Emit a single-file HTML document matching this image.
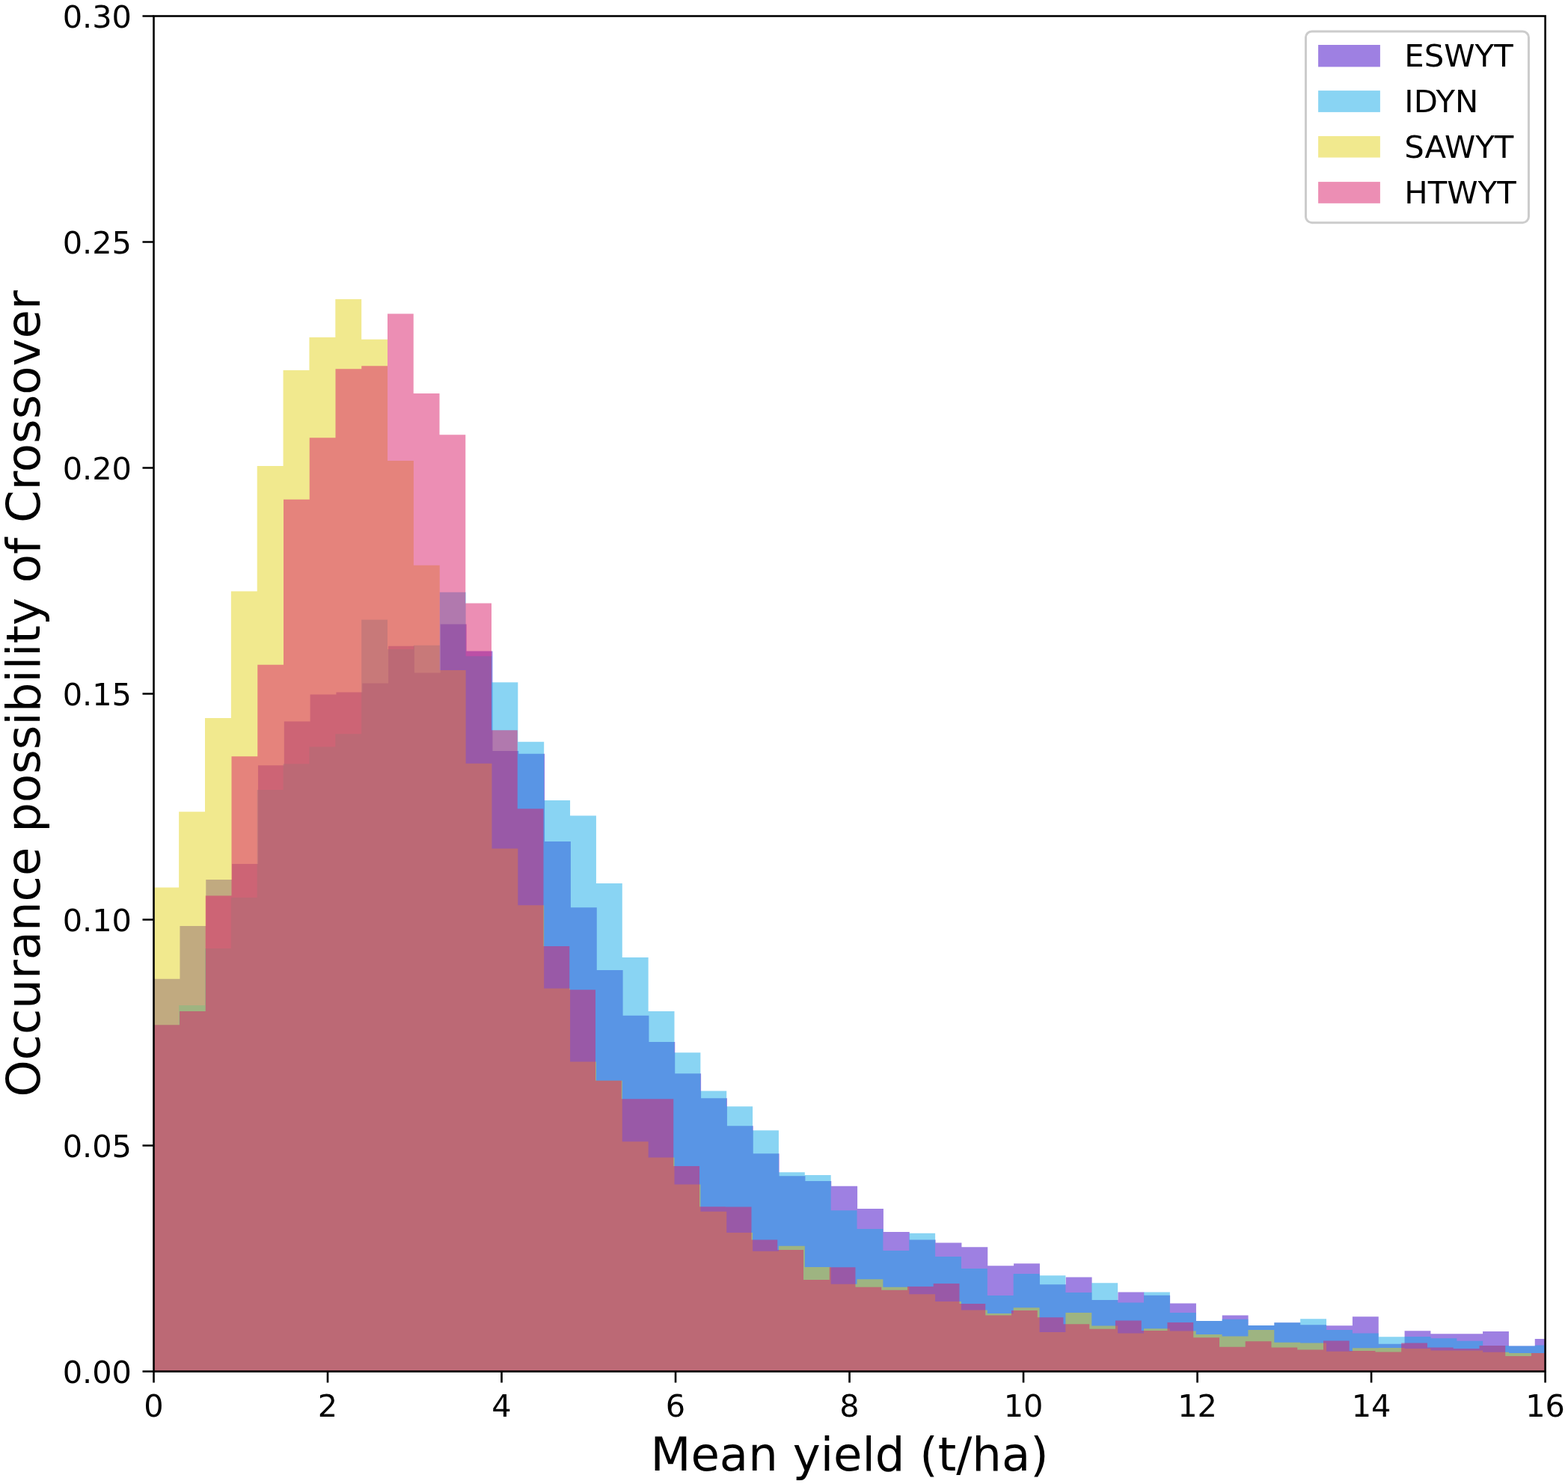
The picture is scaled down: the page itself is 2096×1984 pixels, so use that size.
<!DOCTYPE html>
<html><head><meta charset="utf-8"><title>Histogram</title>
<style>html,body{margin:0;padding:0;background:#fff;}svg{display:block;}text{font-family:"DejaVu Sans", "Liberation Sans", sans-serif;fill:#000;}</style>
</head><body>
<svg width="2096" height="1984" viewBox="0 0 2096 1984">
<rect x="0" y="0" width="2096" height="1984" fill="#ffffff"/>
<defs><clipPath id="ax"><rect x="205.5" y="21.5" width="1860.10" height="1812.00"/></clipPath></defs>
<g clip-path="url(#ax)">
<path d="M205.60,1833.50 L205.60,1308.70 L240.43,1308.70 L240.43,1237.90 L275.27,1237.90 L275.27,1176.00 L310.10,1176.00 L310.10,1154.90 L344.93,1154.90 L344.93,1023.30 L379.76,1023.30 L379.76,964.40 L414.60,964.40 L414.60,928.50 L449.43,928.50 L449.43,925.50 L484.26,925.50 L484.26,913.50 L519.10,913.50 L519.10,863.80 L553.93,863.80 L553.93,899.50 L588.76,899.50 L588.76,834.60 L623.60,834.60 L623.60,870.60 L658.43,870.60 L658.43,1003.90 L693.26,1003.90 L693.26,1007.80 L728.10,1007.80 L728.10,1125.10 L762.93,1125.10 L762.93,1213.20 L797.76,1213.20 L797.76,1297.00 L832.59,1297.00 L832.59,1357.80 L867.43,1357.80 L867.43,1393.00 L902.26,1393.00 L902.26,1435.20 L937.09,1435.20 L937.09,1468.20 L971.93,1468.20 L971.93,1505.20 L1006.76,1505.20 L1006.76,1542.20 L1041.59,1542.20 L1041.59,1572.30 L1076.42,1572.30 L1076.42,1579.10 L1111.26,1579.10 L1111.26,1585.80 L1146.09,1585.80 L1146.09,1615.90 L1180.92,1615.90 L1180.92,1647.10 L1215.76,1647.10 L1215.76,1657.50 L1250.59,1657.50 L1250.59,1661.40 L1285.42,1661.40 L1285.42,1667.30 L1320.26,1667.30 L1320.26,1692.30 L1355.09,1692.30 L1355.09,1689.30 L1389.92,1689.30 L1389.92,1717.30 L1424.75,1717.30 L1424.75,1707.50 L1459.59,1707.50 L1459.59,1738.00 L1494.42,1738.00 L1494.42,1727.40 L1529.25,1727.40 L1529.25,1731.80 L1564.09,1731.80 L1564.09,1742.40 L1598.92,1742.40 L1598.92,1766.00 L1633.75,1766.00 L1633.75,1758.40 L1668.59,1758.40 L1668.59,1772.00 L1703.42,1772.00 L1703.42,1768.20 L1738.25,1768.20 L1738.25,1771.20 L1773.08,1771.20 L1773.08,1772.30 L1807.92,1772.30 L1807.92,1760.20 L1842.75,1760.20 L1842.75,1796.80 L1877.58,1796.80 L1877.58,1779.30 L1912.42,1779.30 L1912.42,1783.20 L1947.25,1783.20 L1947.25,1783.20 L1982.08,1783.20 L1982.08,1780.10 L2016.92,1780.10 L2016.92,1799.40 L2051.75,1799.40 L2051.75,1790.10 L2086.58,1790.10 L2086.58,1833.50 Z" fill="#3d01c5" fill-opacity="0.5"/>
<path d="M204.28,1833.50 L204.28,1370.30 L239.14,1370.30 L239.14,1343.90 L274.00,1343.90 L274.00,1268.00 L308.86,1268.00 L308.86,1200.00 L343.72,1200.00 L343.72,1055.90 L378.58,1055.90 L378.58,1021.20 L413.45,1021.20 L413.45,998.60 L448.31,998.60 L448.31,981.20 L483.17,981.20 L483.17,828.50 L518.03,828.50 L518.03,868.00 L552.89,868.00 L552.89,862.80 L587.75,862.80 L587.75,791.80 L622.61,791.80 L622.61,877.30 L657.47,877.30 L657.47,912.30 L692.33,912.30 L692.33,991.80 L727.19,991.80 L727.19,1070.00 L762.06,1070.00 L762.06,1090.50 L796.92,1090.50 L796.92,1181.10 L831.78,1181.10 L831.78,1280.00 L866.64,1280.00 L866.64,1352.00 L901.50,1352.00 L901.50,1407.20 L936.36,1407.20 L936.36,1458.40 L971.22,1458.40 L971.22,1479.30 L1006.08,1479.30 L1006.08,1511.30 L1040.94,1511.30 L1040.94,1567.20 L1075.81,1567.20 L1075.81,1571.10 L1110.67,1571.10 L1110.67,1618.30 L1145.53,1618.30 L1145.53,1643.10 L1180.39,1643.10 L1180.39,1671.90 L1215.25,1671.90 L1215.25,1648.70 L1250.11,1648.70 L1250.11,1680.00 L1284.97,1680.00 L1284.97,1696.00 L1319.83,1696.00 L1319.83,1732.10 L1354.69,1732.10 L1354.69,1702.90 L1389.55,1702.90 L1389.55,1705.20 L1424.41,1705.20 L1424.41,1727.90 L1459.28,1727.90 L1459.28,1715.30 L1494.14,1715.30 L1494.14,1741.50 L1529.00,1741.50 L1529.00,1727.50 L1563.86,1727.50 L1563.86,1754.90 L1598.72,1754.90 L1598.72,1766.00 L1633.58,1766.00 L1633.58,1763.70 L1668.44,1763.70 L1668.44,1772.00 L1703.30,1772.00 L1703.30,1768.20 L1738.16,1768.20 L1738.16,1763.20 L1773.02,1763.20 L1773.02,1778.10 L1807.89,1778.10 L1807.89,1782.60 L1842.75,1782.60 L1842.75,1787.20 L1877.61,1787.20 L1877.61,1786.90 L1912.47,1786.90 L1912.47,1789.20 L1947.33,1789.20 L1947.33,1792.70 L1982.19,1792.70 L1982.19,1799.00 L2017.05,1799.00 L2017.05,1799.40 L2051.91,1799.40 L2051.91,1798.50 L2086.77,1798.50 L2086.77,1833.50 Z" fill="#13a9e7" fill-opacity="0.5"/>
<path d="M204.28,1833.50 L204.28,1186.40 L239.14,1186.40 L239.14,1085.20 L274.00,1085.20 L274.00,959.90 L308.86,959.90 L308.86,790.40 L343.72,790.40 L343.72,623.10 L378.58,623.10 L378.58,495.10 L413.45,495.10 L413.45,450.90 L448.31,450.90 L448.31,400.00 L483.17,400.00 L483.17,453.80 L518.03,453.80 L518.03,615.90 L552.89,615.90 L552.89,755.80 L587.75,755.80 L587.75,896.00 L622.61,896.00 L622.61,1020.70 L657.47,1020.70 L657.47,1134.60 L692.33,1134.60 L692.33,1210.30 L727.19,1210.30 L727.19,1321.50 L762.06,1321.50 L762.06,1419.60 L796.92,1419.60 L796.92,1444.80 L831.78,1444.80 L831.78,1526.20 L866.64,1526.20 L866.64,1547.60 L901.50,1547.60 L901.50,1583.60 L936.36,1583.60 L936.36,1619.70 L971.22,1619.70 L971.22,1647.90 L1006.08,1647.90 L1006.08,1672.80 L1040.94,1672.80 L1040.94,1665.80 L1075.81,1665.80 L1075.81,1694.00 L1110.67,1694.00 L1110.67,1716.70 L1145.53,1716.70 L1145.53,1710.30 L1180.39,1710.30 L1180.39,1720.70 L1215.25,1720.70 L1215.25,1730.30 L1250.11,1730.30 L1250.11,1740.00 L1284.97,1740.00 L1284.97,1751.40 L1319.83,1751.40 L1319.83,1755.90 L1354.69,1755.90 L1354.69,1748.30 L1389.55,1748.30 L1389.55,1780.90 L1424.41,1780.90 L1424.41,1755.10 L1459.28,1755.10 L1459.28,1772.50 L1494.14,1772.50 L1494.14,1782.40 L1529.00,1782.40 L1529.00,1776.30 L1563.86,1776.30 L1563.86,1779.50 L1598.72,1779.50 L1598.72,1784.10 L1633.58,1784.10 L1633.58,1786.40 L1668.44,1786.40 L1668.44,1778.10 L1703.30,1778.10 L1703.30,1794.70 L1738.16,1794.70 L1738.16,1795.50 L1773.02,1795.50 L1773.02,1806.80 L1807.89,1806.80 L1807.89,1802.30 L1842.75,1802.30 L1842.75,1802.10 L1877.61,1802.10 L1877.61,1803.00 L1912.47,1803.00 L1912.47,1805.40 L1947.33,1805.40 L1947.33,1805.40 L1982.19,1805.40 L1982.19,1807.80 L2017.05,1807.80 L2017.05,1808.90 L2051.91,1808.90 L2051.91,1808.90 L2086.77,1808.90 L2086.77,1833.50 Z" fill="#e4d41e" fill-opacity="0.5"/>
<path d="M205.26,1833.50 L205.26,1370.30 L240.01,1370.30 L240.01,1351.90 L274.76,1351.90 L274.76,1197.60 L309.51,1197.60 L309.51,1011.30 L344.26,1011.30 L344.26,888.80 L379.00,888.80 L379.00,667.80 L413.75,667.80 L413.75,585.20 L448.50,585.20 L448.50,493.30 L483.25,493.30 L483.25,489.30 L518.00,489.30 L518.00,419.40 L552.75,419.40 L552.75,526.10 L587.50,526.10 L587.50,581.20 L622.25,581.20 L622.25,806.40 L657.00,806.40 L657.00,976.20 L691.75,976.20 L691.75,1081.30 L726.50,1081.30 L726.50,1265.00 L761.24,1265.00 L761.24,1323.20 L795.99,1323.20 L795.99,1444.80 L830.74,1444.80 L830.74,1469.30 L865.49,1469.30 L865.49,1469.30 L900.24,1469.30 L900.24,1559.10 L934.99,1559.10 L934.99,1613.30 L969.74,1613.30 L969.74,1613.40 L1004.49,1613.40 L1004.49,1657.50 L1039.24,1657.50 L1039.24,1671.10 L1073.99,1671.10 L1073.99,1711.10 L1108.73,1711.10 L1108.73,1694.30 L1143.48,1694.30 L1143.48,1720.70 L1178.23,1720.70 L1178.23,1724.70 L1212.98,1724.70 L1212.98,1719.90 L1247.73,1719.90 L1247.73,1716.00 L1282.48,1716.00 L1282.48,1743.00 L1317.23,1743.00 L1317.23,1758.60 L1351.98,1758.60 L1351.98,1752.10 L1386.73,1752.10 L1386.73,1761.20 L1421.48,1761.20 L1421.48,1770.30 L1456.22,1770.30 L1456.22,1776.80 L1490.97,1776.80 L1490.97,1765.40 L1525.72,1765.40 L1525.72,1778.90 L1560.47,1778.90 L1560.47,1768.10 L1595.22,1768.10 L1595.22,1788.30 L1629.97,1788.30 L1629.97,1800.80 L1664.72,1800.80 L1664.72,1793.20 L1699.47,1793.20 L1699.47,1801.50 L1734.22,1801.50 L1734.22,1804.50 L1768.97,1804.50 L1768.97,1792.40 L1803.71,1792.40 L1803.71,1806.10 L1838.46,1806.10 L1838.46,1807.40 L1873.21,1807.40 L1873.21,1795.60 L1907.96,1795.60 L1907.96,1801.40 L1942.71,1801.40 L1942.71,1803.10 L1977.46,1803.10 L1977.46,1799.00 L2012.21,1799.00 L2012.21,1813.00 L2046.96,1813.00 L2046.96,1808.90 L2081.71,1808.90 L2081.71,1833.50 Z" fill="#d91d69" fill-opacity="0.5"/>
</g>
<rect x="205.50" y="21.50" width="1860.10" height="1812.00" fill="none" stroke="#000" stroke-width="2.6" stroke-linejoin="miter"/>
<path d="M205.50,1833.50 L205.50,1848.50 M438.01,1833.50 L438.01,1848.50 M670.52,1833.50 L670.52,1848.50 M903.04,1833.50 L903.04,1848.50 M1135.55,1833.50 L1135.55,1848.50 M1368.06,1833.50 L1368.06,1848.50 M1600.57,1833.50 L1600.57,1848.50 M1833.09,1833.50 L1833.09,1848.50 M2065.60,1833.50 L2065.60,1848.50 M205.50,1833.50 L190.50,1833.50 M205.50,1531.50 L190.50,1531.50 M205.50,1229.50 L190.50,1229.50 M205.50,927.50 L190.50,927.50 M205.50,625.50 L190.50,625.50 M205.50,323.50 L190.50,323.50 M205.50,21.50 L190.50,21.50" stroke="#000" stroke-width="2.6" stroke-linecap="butt" fill="none"/>
<text x="0" y="0" font-size="40.4" text-anchor="middle" transform="translate(205.50,1893.5) scale(1.027,1)">0</text>
<text x="0" y="0" font-size="40.4" text-anchor="middle" transform="translate(438.01,1893.5) scale(1.027,1)">2</text>
<text x="0" y="0" font-size="40.4" text-anchor="middle" transform="translate(670.52,1893.5) scale(1.027,1)">4</text>
<text x="0" y="0" font-size="40.4" text-anchor="middle" transform="translate(903.04,1893.5) scale(1.027,1)">6</text>
<text x="0" y="0" font-size="40.4" text-anchor="middle" transform="translate(1135.55,1893.5) scale(1.027,1)">8</text>
<text x="0" y="0" font-size="40.4" text-anchor="middle" transform="translate(1368.06,1893.5) scale(1.027,1)">10</text>
<text x="0" y="0" font-size="40.4" text-anchor="middle" transform="translate(1600.57,1893.5) scale(1.027,1)">12</text>
<text x="0" y="0" font-size="40.4" text-anchor="middle" transform="translate(1833.09,1893.5) scale(1.027,1)">14</text>
<text x="0" y="0" font-size="40.4" text-anchor="middle" transform="translate(2065.60,1893.5) scale(1.027,1)">16</text>
<text x="0" y="0" font-size="40.4" text-anchor="end" transform="translate(176.0,1848.73) scale(1.027,1)">0.00</text>
<text x="0" y="0" font-size="40.4" text-anchor="end" transform="translate(176.0,1546.73) scale(1.027,1)">0.05</text>
<text x="0" y="0" font-size="40.4" text-anchor="end" transform="translate(176.0,1244.73) scale(1.027,1)">0.10</text>
<text x="0" y="0" font-size="40.4" text-anchor="end" transform="translate(176.0,942.73) scale(1.027,1)">0.15</text>
<text x="0" y="0" font-size="40.4" text-anchor="end" transform="translate(176.0,640.73) scale(1.027,1)">0.20</text>
<text x="0" y="0" font-size="40.4" text-anchor="end" transform="translate(176.0,338.73) scale(1.027,1)">0.25</text>
<text x="0" y="0" font-size="40.4" text-anchor="end" transform="translate(176.0,36.73) scale(1.027,1)">0.30</text>
<text x="1135.55" y="1966.3" font-size="62.5" text-anchor="middle">Mean yield (t/ha)</text>
<text x="0" y="0" font-size="62.5" text-anchor="middle" transform="translate(53.4,927.50) rotate(-90)">Occurance possibility of Crossover</text>
<rect x="1745.45" y="42.05" width="298.00" height="255.60" rx="8" ry="8" fill="#ffffff" fill-opacity="0.8" stroke="#cccccc" stroke-width="3"/>
<rect x="1762.1" y="60.0" width="82.8" height="29.4" fill="#3d01c5" fill-opacity="0.5"/>
<text x="0" y="0" font-size="40.4" transform="translate(1877.3,89.4) scale(1.035,1)">ESWYT</text>
<rect x="1762.1" y="121.1" width="82.8" height="28.8" fill="#13a9e7" fill-opacity="0.5"/>
<text x="0" y="0" font-size="40.4" transform="translate(1877.3,149.9) scale(1.035,1)">IDYN</text>
<rect x="1762.1" y="182.0" width="82.8" height="28.6" fill="#e4d41e" fill-opacity="0.5"/>
<text x="0" y="0" font-size="40.4" transform="translate(1877.3,210.6) scale(1.035,1)">SAWYT</text>
<rect x="1762.1" y="243.1" width="82.8" height="28.7" fill="#d91d69" fill-opacity="0.5"/>
<text x="0" y="0" font-size="40.4" transform="translate(1877.3,271.8) scale(1.035,1)">HTWYT</text>
</svg>
</body></html>
